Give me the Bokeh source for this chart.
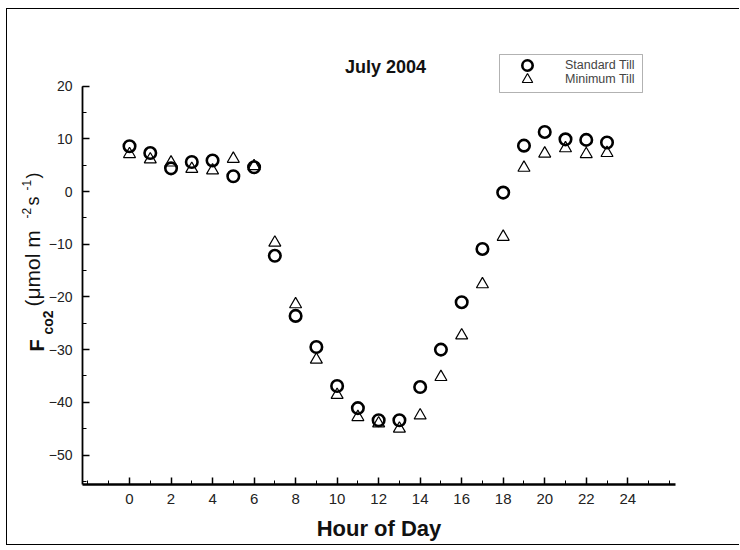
from bokeh.plotting import figure
from bokeh.models import FixedTicker, Label, Legend, LegendItem, Range1d, BoxAnnotation
from bokeh.embed import file_html
from bokeh.resources import INLINE

# ---- data ----
hours = list(range(24))
standard_till = [8.6, 7.3, 4.4, 5.6, 5.9, 2.9, 4.6, -12.2, -23.6, -29.5, -36.9, -41.1,
                 -43.4, -43.4, -37.1, -30.0, -21.0, -10.9, -0.2, 8.7, 11.3, 9.9, 9.8, 9.3]
minimum_till = [7.1, 6.1, 5.5, 4.3, 4.0, 6.2, 4.8, -9.7, -21.4, -31.9, -38.6, -42.8,
                -44.0, -45.0, -42.5, -35.2, -27.3, -17.6, -8.6, 4.5, 7.2, 8.2, 7.1, 7.3]
x_major = [0, 2, 4, 6, 8, 10, 12, 14, 16, 18, 20, 22, 24]
x_minor = list(range(-2, 27))
y_major = [-50, -40, -30, -20, -10, 0, 10, 20]
y_minor = list(range(-55, 21, 5))
x_axis_bounds = (-2.26, 26.3)
y_axis_bounds = (-55.6, 20.0)
title_text = "July 2004"
series_names = ["Standard Till", "Minimum Till"]

SANS = "Liberation Sans"
NARROW = "'Liberation Sans Narrow', 'Liberation Sans', sans-serif"

# the frame fills the whole canvas; axes are pinned inside it
p = figure(width=733, height=537, output_backend="svg", toolbar_location=None,
           x_range=Range1d(-5.877, 29.43), y_range=Range1d(-67.36, 34.54),
           min_border=0)
p.title.visible = False
p.styles = {"margin-left": "6px", "margin-top": "8px",
            "border-left": "1px solid #000", "border-top": "1px solid #000",
            "border-bottom": "1px solid #000"}
p.outline_line_color = None
p.xgrid.visible = False
p.ygrid.visible = False
p.background_fill_color = "white"
p.border_fill_color = "white"

r_min = p.scatter(hours, minimum_till, marker="triangle", size=12, fill_color=None,
                  line_color="black", line_width=1.2)
r_std = p.scatter(hours, standard_till, marker="circle", size=11.5, fill_color=None,
                  line_color="black", line_width=2.6)

for ax in (p.xaxis[0], p.yaxis[0]):
    ax.major_tick_in = 7
    ax.major_tick_out = 0
    ax.minor_tick_in = 4
    ax.minor_tick_out = 0
    ax.major_tick_line_color = "black"
    ax.minor_tick_line_color = "black"
    ax.axis_line_color = "black"
    ax.major_label_text_font = SANS
    ax.major_label_text_color = "#222222"

p.xaxis.fixed_location = y_axis_bounds[0]
p.yaxis.fixed_location = x_axis_bounds[0]
p.xaxis.bounds = x_axis_bounds
p.yaxis.bounds = y_axis_bounds
p.xaxis.ticker = FixedTicker(ticks=x_major, minor_ticks=x_minor)
p.yaxis.ticker = FixedTicker(ticks=y_major, minor_ticks=y_minor)
p.xaxis.axis_line_width = 2.5
p.yaxis.axis_line_width = 1.8
p.xaxis.major_tick_line_width = 1.5
p.yaxis.major_tick_line_width = 1.5
p.xaxis.major_label_text_font_size = "15px"
p.yaxis.major_label_text_font_size = "14px"
p.xaxis.major_label_standoff = 9
p.yaxis.major_label_standoff = 10
p.xaxis.axis_label = "Hour of Day"
p.xaxis.axis_label_text_font = SANS
p.xaxis.axis_label_text_font_style = "bold"
p.xaxis.axis_label_text_font_size = "22px"
p.xaxis.axis_label_text_color = "#111111"
p.xaxis.axis_label_standoff = 9

# page coords -> frame screen coords (frame = canvas, offset by the 7/9 px margin+border)
def sx(px):
    return px - 7

def sy(py):
    return 546 - py

def lab(text, px, py, size, bold=False, angle=0, align="left", baseline="alphabetic", font=SANS):
    p.add_layout(Label(x=sx(px), y=sy(py), x_units="screen", y_units="screen", text=text,
                       text_font=font, text_font_size=size,
                       text_font_style="bold" if bold else "normal",
                       text_align=align, text_baseline=baseline,
                       angle=angle, angle_units="deg", text_color="#111111"))

lab(title_text, 385, 66, "18px", bold=True, align="center", baseline="middle")

# y-axis label pieces (rotated; x is the baseline column, y the start of each piece)
lab("F", 36.4, 351, "20px", bold=True, angle=90)
lab("co2", 47.4, 334, "14px", bold=True, angle=90)
lab("(μmol m", 32.0, 306, "21px", angle=90)
lab("-2", 26.2, 218, "12px", angle=90)
lab("s", 32.8, 205, "18px", angle=90)
lab("-1", 26.2, 190, "12px", angle=90)
lab(")", 32.8, 178, "18px", angle=90)

# legend: framed box + two single-row legends
p.add_layout(BoxAnnotation(left=sx(499), right=sx(642), top=sy(54), bottom=sy(92),
                           left_units="screen", right_units="screen",
                           top_units="screen", bottom_units="screen",
                           fill_color="white", fill_alpha=1,
                           line_color="black", line_width=1))
for name, rend, row_bottom in ((series_names[0], r_std, 78), (series_names[1], r_min, 92)):
    lg = Legend(items=[LegendItem(label=name, renderers=[rend])],
                location=(sx(499), sy(row_bottom)), orientation="vertical",
                padding=0, spacing=0, glyph_width=56, glyph_height=26,
                label_height=14, label_standoff=10, margin=0,
                label_text_font=NARROW, label_text_font_size="12.5px",
                border_line_color=None, background_fill_alpha=0)
    p.add_layout(lg)

open("out.html", "w").write(file_html(p, INLINE))
